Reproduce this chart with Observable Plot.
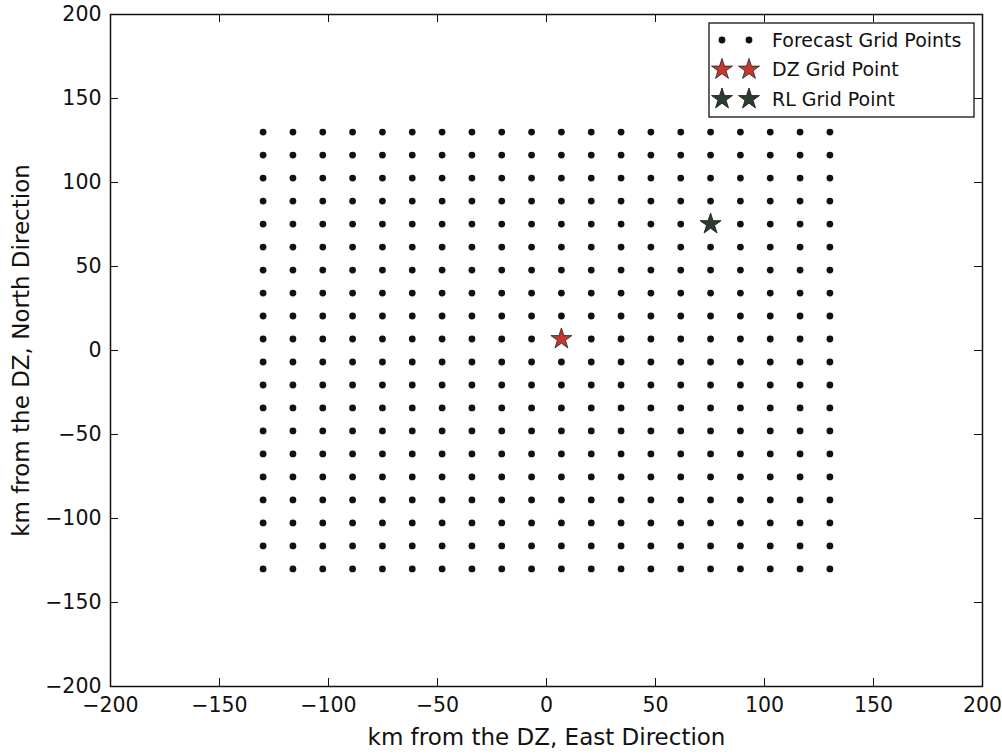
<!DOCTYPE html>
<html><head><meta charset="utf-8">
<script src="https://cdn.jsdelivr.net/npm/d3@7"></script>
<script src="https://cdn.jsdelivr.net/npm/@observablehq/plot@0.6"></script>
<style>body{margin:0;background:#fff;} #chart{position:relative;width:1002px;height:754px;}</style>
</head><body><div id="chart"></div>
<script>
// Data
const gridX = [-130, -116.32, -102.63, -88.95, -75.26, -61.58, -47.89, -34.21, -20.53, -6.84,
               6.84, 20.53, 34.21, 47.89, 61.58, 75.26, 88.95, 102.63, 116.32, 130];
const gridY = [-130, -116.32, -102.63, -88.95, -75.26, -61.58, -47.89, -34.21, -20.53, -6.84,
               6.84, 20.53, 34.21, 47.89, 61.58, 75.26, 88.95, 102.63, 116.32, 130];
const dzPoint = [{x: 6.84, y: 6.84}];
const rlPoint = [{x: 75.26, y: 75.26}];
const xTicks = [-200, -150, -100, -50, 0, 50, 100, 150, 200];
const yTicks = [-200, -150, -100, -50, 0, 50, 100, 150, 200];
const xLabel = "km from the DZ, East Direction";
const yLabel = "km from the DZ, North Direction";
const legendLabels = ["Forecast Grid Points", "DZ Grid Point", "RL Grid Point"];

const points = gridX.flatMap(x => gridY.map(y => ({x, y})));

const W = 1002, H = 754;
const mL = 110, mR = 20, mT = 14, mB = 68;
const pw = W - mL - mR, ph = H - mT - mB;
const tickLen = 8;
const dzColor = "#c5382e", rlColor = "#2a3d2e";
const starR = 6.6;
const dotR = 3.4;

const chart = Plot.plot({
  width: W, height: H,
  marginLeft: mL, marginRight: mR, marginTop: mT, marginBottom: mB,
  style: {fontFamily: "'DejaVu Sans', sans-serif", fontSize: "20px", color: "#111", background: "#fff"},
  x: {domain: [-200, 200]},
  y: {domain: [-200, 200]},
  marks: [
    Plot.dot(points, {x: "x", y: "y", r: dotR, fill: "#111", stroke: null}),
    Plot.dot(dzPoint, {x: "x", y: "y", r: starR, symbol: "star", fill: dzColor, stroke: "#222", strokeWidth: 0.8}),
    Plot.dot(rlPoint, {x: "x", y: "y", r: starR, symbol: "star", fill: rlColor, stroke: "#111", strokeWidth: 0.8}),
    Plot.tickX(xTicks, {x: d => d, insetTop: ph - tickLen, stroke: "#111", strokeWidth: 1}),
    Plot.tickX(xTicks, {x: d => d, insetBottom: ph - tickLen, stroke: "#111", strokeWidth: 1}),
    Plot.tickY(yTicks, {y: d => d, insetRight: pw - tickLen, stroke: "#111", strokeWidth: 1}),
    Plot.tickY(yTicks, {y: d => d, insetLeft: pw - tickLen, stroke: "#111", strokeWidth: 1}),
    Plot.axisX(xTicks, {tickSize: 0, tickPadding: 11, label: null, fontSize: 20.5}),
    Plot.axisY(yTicks, {tickSize: 0, tickPadding: 9, label: null, fontSize: 20.5}),
    Plot.frame({stroke: "#111", strokeWidth: 1.5}),
    Plot.text([xLabel], {text: d => d, frameAnchor: "bottom", textAnchor: "middle", dy: 51, lineAnchor: "middle", fontSize: 23}),
    Plot.text([yLabel], {text: d => d, frameAnchor: "left", textAnchor: "middle", dx: -89, rotate: -90, lineAnchor: "middle", fontSize: 23})
  ]
});

// Legend (inside the plot, upper right)
const svg = d3.select(chart);
const lg = svg.append("g").attr("font-family", "'DejaVu Sans', sans-serif").attr("font-size", 19).attr("text-anchor", "start");
lg.append("rect").attr("x", 709).attr("y", 23).attr("width", 265).attr("height", 94)
  .attr("fill", "#fff").attr("stroke", "#111").attr("stroke-width", 1.3);
const rowsY = [40, 69.5, 99];
const markX = [722, 749];
const starPath = d3.symbol(d3.symbolStar, Math.PI * starR * starR)();
markX.forEach(mx => {
  lg.append("circle").attr("cx", mx).attr("cy", rowsY[0]).attr("r", dotR).attr("fill", "#111");
  lg.append("path").attr("d", starPath).attr("transform", `translate(${mx},${rowsY[1]})`)
    .attr("fill", dzColor).attr("stroke", "#222").attr("stroke-width", 0.8);
  lg.append("path").attr("d", starPath).attr("transform", `translate(${mx},${rowsY[2]})`)
    .attr("fill", rlColor).attr("stroke", "#111").attr("stroke-width", 0.8);
});
legendLabels.forEach((t, i) => {
  lg.append("text").attr("x", 772).attr("y", rowsY[i]).attr("dy", "0.35em")
    .attr("text-anchor", "start").attr("fill", "#111").text(t);
});

document.getElementById("chart").appendChild(chart);
</script>
</body></html>
